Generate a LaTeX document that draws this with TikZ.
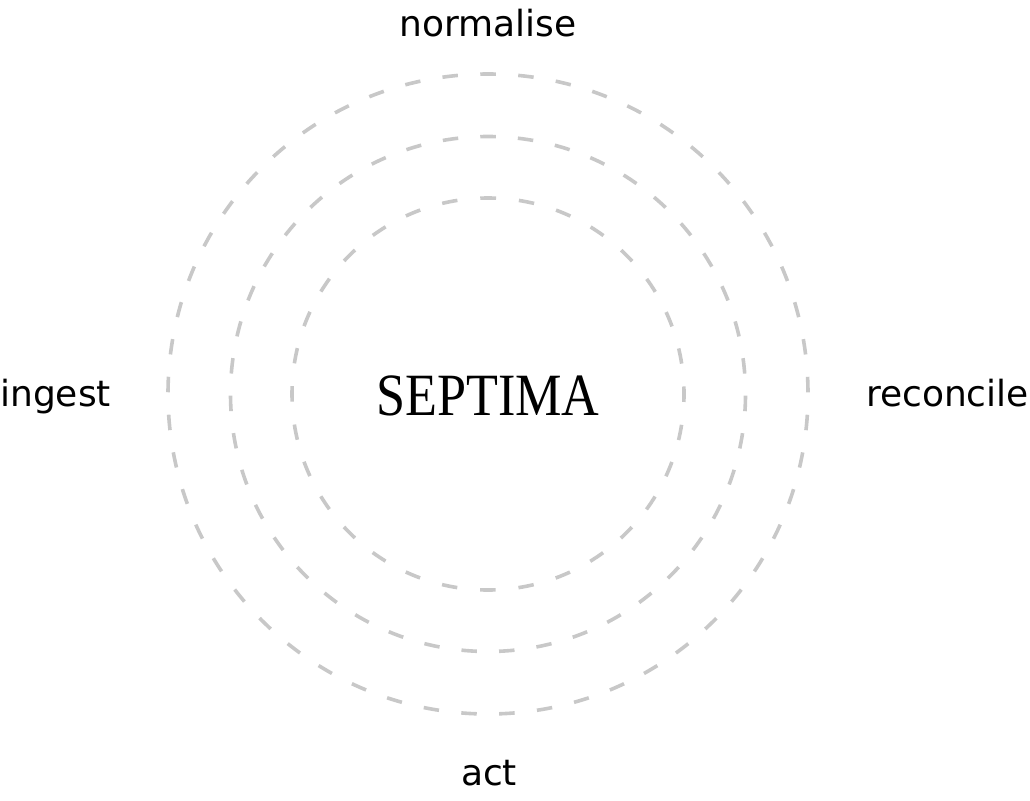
\documentclass[tikz,border=0pt]{standalone}
\usepackage{fontspec}
\newfontfamily\labfont{DejaVu Sans}
\newfontfamily\titlefont{Liberation Serif}
\definecolor{ringgray}{HTML}{C8C8C8}
\begin{document}
\begin{tikzpicture}[x=1pt,y=-1pt,
  ring/.style={draw=ringgray,line width=3.6pt},
  lab/.style={inner sep=0pt,font=\labfont\fontsize{36}{40}\selectfont},
  ttl/.style={inner sep=0pt,font=\titlefont\fontsize{60}{64}\selectfont}]
\useasboundingbox (0,0) rectangle (1030,800);
\coordinate (c) at (488,394);
% outer ring: 53 dashes
\draw[ring,dash pattern=on 15.5pt off 22.44pt,dash phase=7.75pt] (488,74) arc[start angle=90,end angle=450,radius=320pt];
% middle ring: 43 dashes
\draw[ring,dash pattern=on 15.5pt off 22.13pt,dash phase=7.75pt] (488,136.5) arc[start angle=90,end angle=450,radius=257.5pt];
% inner ring: 32 dashes
\draw[ring,dash pattern=on 15.5pt off 22.98pt,dash phase=7.75pt] (488,198) arc[start angle=90,end angle=450,radius=196pt];
\node[ttl,anchor=base] (title) at (488,415) {\scalebox{0.87}[1]{SEPTIMA}};
\node[lab,anchor=base] (norm) at (488,37) {normalise};
\node[lab,anchor=base west] (ing) at (0,406) {ingest};
\node[lab,anchor=base east] (rec) at (1029,406) {reconcile};
\node[lab,anchor=base] (act) at (489,785) {act};
\end{tikzpicture}
\end{document}
